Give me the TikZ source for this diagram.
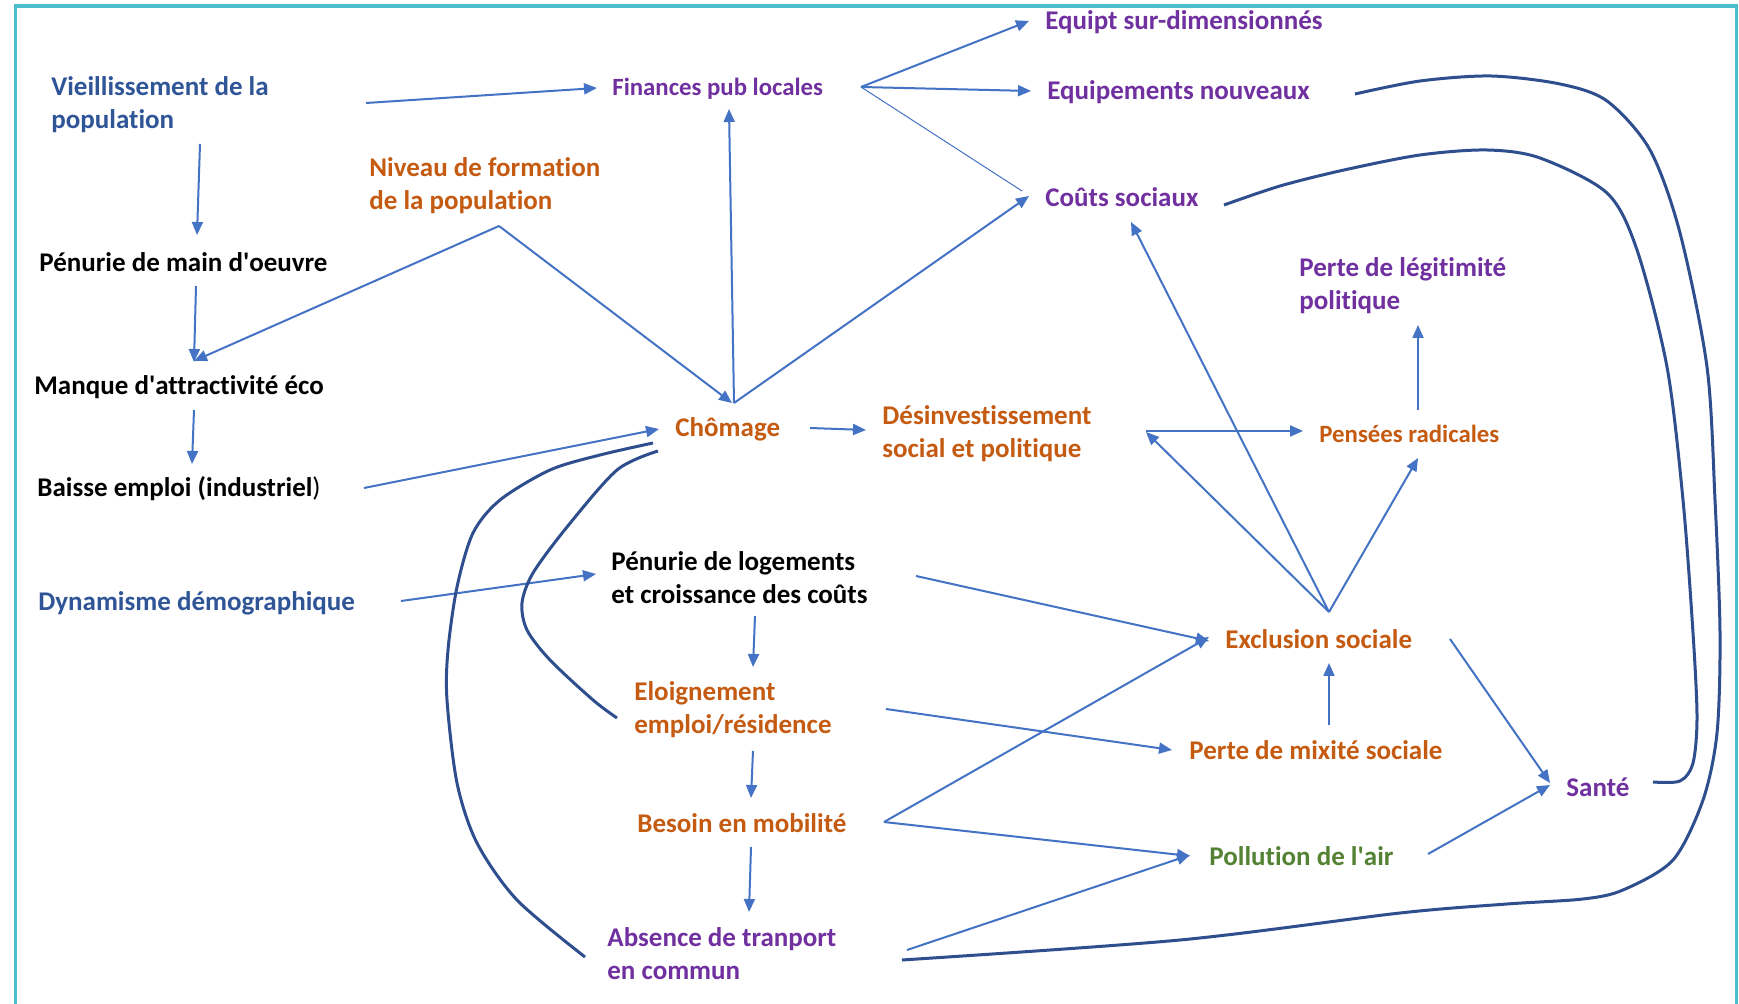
\documentclass[tikz,border=0pt]{standalone}
\usepackage{fontspec}
\setmainfont{Carlito}[Ligatures={NoCommon}]
\usetikzlibrary{arrows.meta}
\definecolor{arrblue}{HTML}{4472C4}
\definecolor{curveblue}{HTML}{2E4E8E}
\definecolor{txtblue}{HTML}{2F5597}
\definecolor{txtorange}{HTML}{C55A11}
\definecolor{txtpurple}{HTML}{7030A0}
\definecolor{txtgreen}{HTML}{548235}
\definecolor{frameteal}{HTML}{4DBFCC}
\newcommand{\sq}{\textquotesingle}
\begin{document}
\begin{tikzpicture}[x=0.5pt,y=-0.5pt,
  lbl/.style={font=\fontsize{13.5pt}{16.5pt}\selectfont\bfseries, inner sep=0pt, anchor=west, align=left},
  small/.style={font=\fontsize{12.4pt}{15pt}\selectfont\bfseries},
  lblue/.style={lbl, text=txtblue},
  lorange/.style={lbl, text=txtorange},
  lpurple/.style={lbl, text=txtpurple},
  lgreen/.style={lbl, text=txtgreen},
  lblack/.style={lbl, text=black},
  arr/.style={draw=arrblue, line width=1pt, -{Triangle[length=6.5pt,width=5.5pt]}},
  thinline/.style={draw=arrblue, line width=0.5pt},
  loopline/.style={draw=curveblue, line width=1.5pt},
  frameline/.style={draw=frameteal, line width=1.8pt}
]
\fill[white] (0,0) rectangle (1739,1004);
\useasboundingbox (0,0) rectangle (1739,1004);
\draw[frameline] (15.5,1004) -- (15.5,6) -- (1736.5,6) -- (1736.5,1004);

% nodes
\node[lblue]   (vie)  at (51,105)   {Vieillissement de la\\population};
\node[lblack]  (pmo)  at (39,262)   {Pénurie de main d\sq oeuvre};
\node[lblack]  (man)  at (34,387)   {Manque d\sq attractivité éco};
\node[lblack]  (bai)  at (37,489)   {Baisse emploi (industriel{\mdseries)}};
\node[lblue]   (dyn)  at (38,603)   {Dynamisme démographique};
\node[lorange] (niv)  at (369,186)  {Niveau de formation\\de la population};
\node[lpurple, small] (fin)  at (612,89)   {Finances pub locales};
\node[lpurple] (eqs)  at (1045,22)  {Equipt sur-dimensionnés};
\node[lpurple] (eqn)  at (1047,92)  {Equipements nouveaux};
\node[lpurple] (cou)  at (1045,197) {Coûts sociaux};
\node[lpurple] (leg)  at (1299,286) {Perte de légitimité\\politique};
\node[lorange] (cho)  at (675,429)  {Chômage};
\node[lorange] (des)  at (882,434)  {Désinvestissement\\social et politique};
\node[lorange, small] (pen)  at (1319,434) {Pensées radicales};
\node[lblack]  (plog) at (611,578)  {Pénurie de logements\\et croissance des coûts};
\node[lorange] (exc)  at (1225,639) {Exclusion sociale};
\node[lorange] (elo)  at (634,710)  {Eloignement\\emploi/résidence};
\node[lorange] (mix)  at (1189,750) {Perte de mixité sociale};
\node[lorange] (bes)  at (637,823)  {Besoin en mobilité};
\node[lpurple] (san)  at (1566,787) {Santé};
\node[lgreen]  (pol)  at (1209,856) {Pollution de l\sq air};
\node[lpurple] (abs)  at (607,954)  {Absence de tranport\\en commun};

% arrows
\draw[arr] ([shift={(315,-2)}]vie.west) -- ([shift={(-15,-1)}]fin.west);
\draw[arr] ([shift={(149,39)}]vie.west) -- ([shift={(158,-27)}]pmo.west);
\draw[arr] ([shift={(157,24)}]pmo.west) -- ([shift={(160,-25)}]man.west);
\draw[arr] ([shift={(130,40)}]niv.west) -- ([shift={(160,-26)}]man.west);
\draw[arr] ([shift={(130,40)}]niv.west) -- ([shift={(57,-26)}]cho.west);
\draw[arr] ([shift={(160,23)}]man.west) -- ([shift={(155,-25)}]bai.west);
\draw[arr] ([shift={(327,-1)}]bai.west) -- ([shift={(-16,0)}]cho.west);
\draw[arr] ([shift={(59,-26)}]cho.west) -- ([shift={(117,20)}]fin.west);
\draw[arr] ([shift={(59,-26)}]cho.west) -- ([shift={(-16,-1)}]cou.west);
\draw[arr] ([shift={(249,-2)}]fin.west) -- ([shift={(-16,-1)}]eqs.west);
\draw[arr] ([shift={(249,-2)}]fin.west) -- ([shift={(-16,-1)}]eqn.west);
\draw[thinline] ([shift={(249,-2)}]fin.west) -- ([shift={(-23,-6)}]cou.west);
\draw[arr] ([shift={(135,-1)}]cho.west) -- ([shift={(-16,-4)}]des.west);
\draw[arr] ([shift={(363,-2)}]dyn.west) -- ([shift={(-15,-4)}]plog.west);
\draw[arr] ([shift={(144,38)}]plog.west) -- ([shift={(119,-43)}]elo.west);
\draw[arr] ([shift={(119,41)}]elo.west) -- ([shift={(114,-25)}]bes.west);
\draw[arr] ([shift={(114,24)}]bes.west) -- ([shift={(142,-42)}]abs.west);
\draw[arr] ([shift={(305,-2)}]plog.west) -- ([shift={(-16,2)}]exc.west);
\draw[arr] ([shift={(252,-1)}]elo.west) -- ([shift={(-17,0)}]mix.west);
\draw[arr] ([shift={(247,-1)}]bes.west) -- ([shift={(-16,-2)}]exc.west);
\draw[arr] ([shift={(247,-1)}]bes.west) -- ([shift={(-19,0)}]pol.west);
\draw[arr] ([shift={(300,-4)}]abs.west) -- ([shift={(-19,-1)}]pol.west);
\draw[arr] ([shift={(140,-25)}]mix.west) -- ([shift={(104,24)}]exc.west);
\draw[arr] ([shift={(104,-27)}]exc.west) -- ([shift={(86,25)}]cou.west);
\draw[arr] ([shift={(104,-27)}]exc.west) -- ([shift={(264,-2)}]des.west);
\draw[arr] ([shift={(104,-27)}]exc.west) -- ([shift={(99,24)}]pen.west);
\draw[arr] ([shift={(264,-3)}]des.west) -- ([shift={(-16,-3)}]pen.west);
\draw[arr] ([shift={(99,-24)}]pen.west) -- ([shift={(119,39)}]leg.west);
\draw[arr] ([shift={(225,0)}]exc.west) -- ([shift={(-16,-4)}]san.west);
\draw[arr] ([shift={(219,-2)}]pol.west) -- ([shift={(-16,-2)}]san.west);

% loop curves
\draw[loopline] plot[smooth] coordinates {([shift={(308,2)}]eqn.west) (1420,81) (1491,76) (1560,84) (1607,101) (1650,150) (1680,233) (1707,367) (1715,500) (1720,633) (1717,733) (1703,800) (1673,860) (1623,890) (1583,899) (1507,904) (1400,913) (1180,940) ([shift={(295,6)}]abs.west)};
\draw[loopline] plot[smooth] coordinates {([shift={(179,8)}]cou.west) (1280,186) (1344,170) (1420,155) (1487,150) (1540,158) (1607,193) (1637,250) (1667,367) (1683,500) (1693,633) (1697,717) (1693,763) (1680,781) ([shift={(87,-5)}]san.west)};
\draw[loopline] plot[smooth] coordinates {([shift={(-22,14)}]cho.west) (600,455) (550,470) (500,500) (473,533) (457,587) (448,650) (447,700) (457,783) (477,843) (517,900) ([shift={(-22,3)}]abs.west)};
\draw[loopline] plot[smooth] coordinates {([shift={(-17,22)}]cho.west) (617,470) (567,527) (533,573) (522,603) (527,630) (550,660) (593,700) ([shift={(-17,8)}]elo.west)};
\end{tikzpicture}
\end{document}
